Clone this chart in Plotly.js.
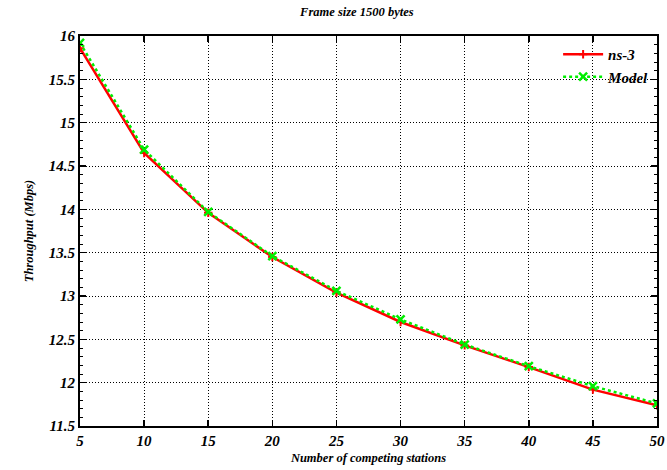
<!DOCTYPE html>
<html>
<head>
<meta charset="utf-8">
<script src="https://cdn.plot.ly/plotly-3.0.1.min.js"></script>
<style>html,body{margin:0;padding:0;background:#fff;}#chart{width:667px;height:470px;}</style>
</head>
<body>
<div id="chart"></div>
<script>
var stations = [5, 10, 15, 20, 25, 30, 35, 40, 45, 50];
var ns3 = [15.86, 14.65, 13.96, 13.45, 13.04, 12.70, 12.43, 12.18, 11.92, 11.74];
var model = [15.92, 14.69, 13.97, 13.46, 13.06, 12.73, 12.44, 12.19, 11.96, 11.76];
var xTicks = [5, 10, 15, 20, 25, 30, 35, 40, 45, 50];
var yTicks = [11.5, 12, 12.5, 13, 13.5, 14, 14.5, 15, 15.5, 16];

function bi(s) { return '<b><i>' + s + '</i></b>'; }

var fnt = {family: 'Liberation Serif', size: 15, color: '#000'};
var tfnt = {family: 'Liberation Serif', size: 12.5, color: '#000'};

var traces = [
  {x: stations, y: ns3, name: bi('ns-3'), mode: 'lines+markers',
   line: {color: '#ff0000', width: 2.5},
   marker: {symbol: 'cross-thin-open', size: 6, color: '#ff0000', line: {color: '#ff0000', width: 2}}},
  {x: stations, y: model, name: bi('Model'), mode: 'lines+markers',
   line: {color: '#00ee00', width: 2.5, dash: '3px,3px'},
   marker: {symbol: 'x-thin-open', size: 8, color: '#00ee00', line: {color: '#00ee00', width: 2.5}}}
];

var axisCommon = {
  showline: true, linecolor: '#000', linewidth: 2, mirror: 'ticks',
  ticks: 'inside', ticklen: 6, tickwidth: 1.5, tickcolor: '#000',
  showgrid: true, gridcolor: '#000', gridwidth: 1, griddash: '1px,2px',
  zeroline: false, tickfont: fnt
};

var layout = {
  width: 667, height: 470,
  margin: {l: 80, r: 10, t: 36, b: 44},
  paper_bgcolor: '#fff', plot_bgcolor: '#fff',
  font: {family: 'Liberation Serif'},
  title: {text: bi('Frame size 1500 bytes'), font: tfnt, x: 0.535, xanchor: 'center', y: 0.975, yanchor: 'middle'},
  xaxis: Object.assign({}, axisCommon, {
    range: [5, 50], tickvals: xTicks, ticktext: xTicks.map(function(v){return bi(String(v));}),
    title: {text: bi('Number of competing stations'), font: tfnt, standoff: 5}
  }),
  yaxis: Object.assign({}, axisCommon, {
    range: [11.5, 16], tickvals: yTicks, ticktext: yTicks.map(function(v){return bi(String(v));}),
    minor: {dtick: 0.1, ticks: 'inside', ticklen: 3, tickcolor: '#000', tickwidth: 1, showgrid: false},
    title: {text: bi('Throughput (Mbps)'), font: tfnt, standoff: 12}
  }),
  legend: {x: 0.995, y: 0.995, xanchor: 'right', yanchor: 'top', bgcolor: 'rgba(255,255,255,0)',
    font: fnt, itemwidth: 40, tracegroupgap: 0},
  showlegend: true
};

Plotly.newPlot('chart', traces, layout, {displayModeBar: false, staticPlot: true});
</script>
</body>
</html>
